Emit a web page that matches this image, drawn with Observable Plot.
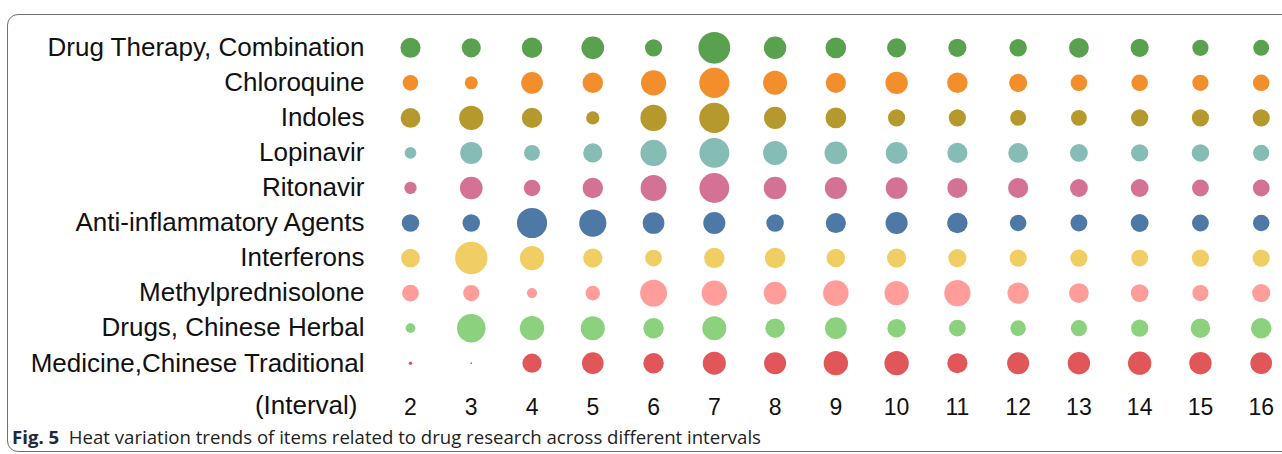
<!DOCTYPE html>
<html>
<head>
<meta charset="utf-8">
<script src="https://cdn.jsdelivr.net/npm/d3@7"></script>
<script src="https://cdn.jsdelivr.net/npm/@observablehq/plot@0.6"></script>
<style>
  html, body { margin: 0; padding: 0; background: #fff; }
  #fig { position: relative; width: 1282px; height: 454px; overflow: hidden; }
  #frame {
    position: absolute; left: 7px; top: 14px; width: 1300px; height: 438px;
    border: 1.3px solid #707070; border-radius: 11px; box-sizing: border-box;
  }
  #chart { position: absolute; left: 0; top: 0; }
  #caption {
    position: absolute; left: 12px; top: 424px; margin: 0;
    font-family: "Open Sans", "Noto Sans", sans-serif; font-size: 18.6px;
    color: #222; white-space: pre; line-height: normal;
  }
  #caption b { font-weight: 700; color: #1d2a3a; }
</style>
</head>
<body>
<div id="fig">
  <div id="frame"></div>
  <div id="chart"></div>
  <p id="caption"><b>Fig. 5</b>  Heat variation trends of items related to drug research across different intervals</p>
</div>
<script>
// Intervals along the horizontal axis
const intervals = [2, 3, 4, 5, 6, 7, 8, 9, 10, 11, 12, 13, 14, 15, 16];

// Research items, top to bottom
const items = [
  "Drug Therapy, Combination",
  "Chloroquine",
  "Indoles",
  "Lopinavir",
  "Ritonavir",
  "Anti-inflammatory Agents",
  "Interferons",
  "Methylprednisolone",
  "Drugs, Chinese Herbal",
  "Medicine,Chinese Traditional"
];

// Heat of each item per interval (relative, 0–100)
const drugTherapyCombination = [38.6, 35.0, 39.8, 49.0, 28.2, 96.4, 47.7, 40.9, 35.0, 31.5, 29.2, 37.2, 31.5, 25.1, 24.0];
const chloroquine            = [23.1, 16.0, 44.8, 39.8, 61.0, 86.7, 55.0, 38.6, 47.7, 39.8, 31.5, 26.1, 26.1, 25.1, 26.1];
const indoles                = [37.2, 56.4, 39.8, 16.9, 65.7, 86.7, 46.5, 40.9, 28.2, 28.2, 24.0, 24.0, 28.2, 28.2, 28.2];
const lopinavir              = [13.0, 46.5, 24.0, 35.0, 65.7, 85.0, 55.0, 49.0, 44.8, 38.6, 37.2, 30.2, 28.2, 29.2, 25.1];
const ritonavir              = [14.5, 49.0, 26.1, 39.8, 64.3, 85.0, 49.0, 46.5, 44.8, 38.6, 38.6, 30.2, 30.2, 27.0, 27.0];
const antiInflammatory       = [29.2, 29.2, 86.7, 70.7, 44.8, 46.5, 29.2, 38.6, 46.5, 39.8, 26.1, 27.0, 30.2, 27.0, 26.1];
const interferons            = [33.6, 100.0, 56.4, 35.0, 27.0, 39.8, 39.8, 32.6, 35.0, 31.5, 28.2, 28.2, 27.0, 28.2, 28.2];
const methylprednisolone     = [27.0, 25.1, 9.6, 20.3, 69.2, 61.0, 49.0, 62.4, 56.4, 65.7, 43.6, 37.2, 30.2, 25.1, 31.5];
const chineseHerbalDrugs     = [9.0, 77.4, 56.4, 55.0, 39.8, 55.0, 36.1, 44.8, 32.6, 27.0, 23.1, 25.1, 28.2, 36.1, 39.8];
const traditionalMedicine    = [1.2, 0.3, 35.0, 44.8, 39.8, 50.7, 46.5, 56.4, 56.4, 38.6, 46.5, 47.7, 51.9, 47.7, 44.8];

const series = [
  drugTherapyCombination, chloroquine, indoles, lopinavir, ritonavir,
  antiInflammatory, interferons, methylprednisolone, chineseHerbalDrugs, traditionalMedicine
];

// One colour per item
const palette = [
  "#59a14f", "#f28e2b", "#b6992d", "#86bcb6", "#d37295",
  "#4e79a7", "#f1ce63", "#ff9d9a", "#8cd17d", "#e15759"
];

const table = items.flatMap((item, i) =>
  series[i].map((heat, j) => ({item, interval: intervals[j], heat}))
);

const chart = Plot.plot({
  width: 1282,
  height: 420,
  marginLeft: 410,
  marginRight: 21.3,
  marginTop: 47.3,
  marginBottom: 57.3,
  style: {fontFamily: "'Liberation Sans', Arial, sans-serif", color: "#111", background: "transparent"},
  x: {type: "point", domain: intervals, padding: 0, round: false, label: null},
  y: {type: "point", domain: items, padding: 0, round: false, label: null},
  r: {type: "sqrt", domain: [0, 100], range: [0, 16.2]},
  color: {domain: items, range: palette},
  marks: [
    Plot.dot(table, {x: "interval", y: "item", r: "heat", fill: "item", stroke: null}),
    Plot.axisY({tickSize: 0, tickPadding: 46, fontSize: 26, label: null}),
    Plot.axisX({tickSize: 0, tickPadding: 35, fontSize: 23, label: null}),
    Plot.text(["(Interval)"], {
      frameAnchor: "bottom-left", textAnchor: "end", lineAnchor: "middle",
      dx: -53, dy: 42, fontSize: 26
    })
  ]
});

document.getElementById("chart").appendChild(chart);
</script>
</body>
</html>
